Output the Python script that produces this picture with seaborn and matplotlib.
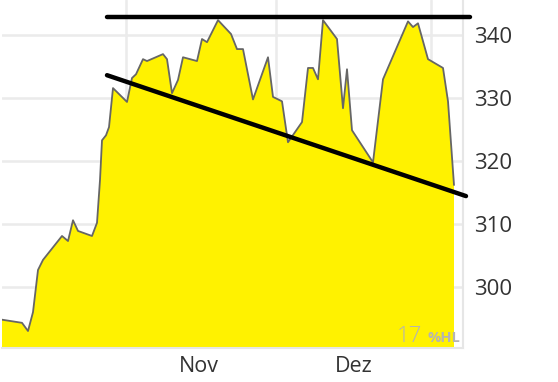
import matplotlib
matplotlib.use("Agg")
import matplotlib.pyplot as plt
import seaborn as sns
import pandas as pd

# Data (days relative to 1 Nov, price)
day_offsets = [-24.8, -20.8, -19.6, -18.6, -17.6, -16.6, -12.8, -11.6, -10.6, -9.6,
               -6.8, -5.8, -5.2, -4.8, -4.0, -3.4, -2.6, 0.2, 1.2, 2.0,
               3.4, 4.2, 7.4, 8.2, 9.2, 10.4, 11.4, 14.2, 15.2, 16.2,
               18.4, 21.0, 22.2, 23.4, 25.4, 28.4, 29.4, 31.2, 32.4, 35.2,
               36.4, 37.4, 38.4, 39.4, 42.2, 43.4, 44.2, 45.2, 49.4, 51.4,
               56.4, 57.4, 58.4, 60.4, 63.4, 64.4, 65.6]
prices = [294.8, 294.3, 293.0, 296.0, 302.7, 304.3, 308.1, 307.3, 310.6, 308.9,
          308.1, 310.2, 317.0, 323.3, 324.1, 325.4, 331.6, 329.4, 333.2, 333.8,
          336.2, 335.9, 337.0, 336.2, 330.8, 332.9, 336.5, 335.9, 339.4, 338.9,
          342.4, 340.2, 337.8, 337.8, 329.8, 336.5, 330.2, 329.5, 323.0, 326.2,
          334.8, 334.8, 333.0, 342.4, 339.4, 328.4, 334.6, 324.9, 319.8, 333.0,
          342.2, 341.3, 341.9, 336.2, 334.8, 329.5, 316.2]

# Trend lines (start/end day offsets and levels)
resist_days = [-3.8, 68.8]
resist_vals = [342.9, 342.9]
support_days = [-3.8, 68.0]
support_vals = [333.65, 314.44]

y_ticks = [300, 310, 320, 330, 340]
month_labels = ["Nov", "Dez"]
month_label_days = [14.5, 45.5]

base = pd.Timestamp("2024-11-01")
def to_dates(offs):
    return [base + pd.Timedelta(days=o) for o in offs]

df = pd.DataFrame({"date": to_dates(day_offsets), "price": prices})

sns.set_theme(style="white")
plt.rcParams["font.family"] = ["Open Sans", "DejaVu Sans"]

fig = plt.figure(figsize=(5.58, 3.82), dpi=100)
ax = fig.add_axes([2/558, 34/382, 461/558, 348/382])

ax.fill_between(df["date"], df["price"], 280, color="#FFF200", zorder=2, linewidth=0)
sns.lineplot(data=df, x="date", y="price", ax=ax, color="#666666", linewidth=1.3, zorder=3)

ax.plot(to_dates(resist_days), resist_vals, color="black", linewidth=3.2,
        solid_capstyle="round", clip_on=False, zorder=5)
ax.plot(to_dates(support_days), support_vals, color="black", linewidth=3.2,
        solid_capstyle="round", clip_on=False, zorder=5)

ax.set_xlim(base + pd.Timedelta(days=-24.8), base + pd.Timedelta(days=67.4))
ax.set_ylim(290.3, 345.6)

# grid at month starts, labels at mid-month
month_starts = [pd.Timestamp("2024-11-01"), pd.Timestamp("2024-12-01"), pd.Timestamp("2025-01-01")]
ax.set_xticks(month_starts)
ax.set_xticklabels([])
ax.set_xticks(to_dates(month_label_days), minor=True)
ax.set_xticklabels(month_labels, minor=True)
ax.tick_params(axis="x", which="both", length=0, labelsize=15.5, colors="#333333", pad=6)

ax.yaxis.tick_right()
ax.set_yticks(y_ticks)
ax.set_yticklabels([str(t) for t in y_ticks])
ax.tick_params(axis="y", length=0, labelsize=16, colors="#333333", pad=8)

ax.grid(True, which="major", color="#ebebeb", linewidth=1.8, zorder=1)
ax.set_axisbelow(True)
ax.set_xlabel("")
ax.set_ylabel("")

for side in ["top", "left"]:
    ax.spines[side].set_visible(False)
for side in ["right", "bottom"]:
    ax.spines[side].set_visible(True)
    ax.spines[side].set_color("#e6e6e6")
    ax.spines[side].set_linewidth(1.5)

# watermark
ax.text(0.912, 0.003, "17", transform=ax.transAxes, ha="right", va="bottom",
        fontsize=16, fontweight="light", color="#b4b4b4", zorder=6)
ax.text(0.995, 0.008, "%HL", transform=ax.transAxes, ha="right", va="bottom",
        fontsize=10.5, fontweight="bold", color="#b4b4b4", zorder=6)

fig.savefig("out.png", dpi=100)
